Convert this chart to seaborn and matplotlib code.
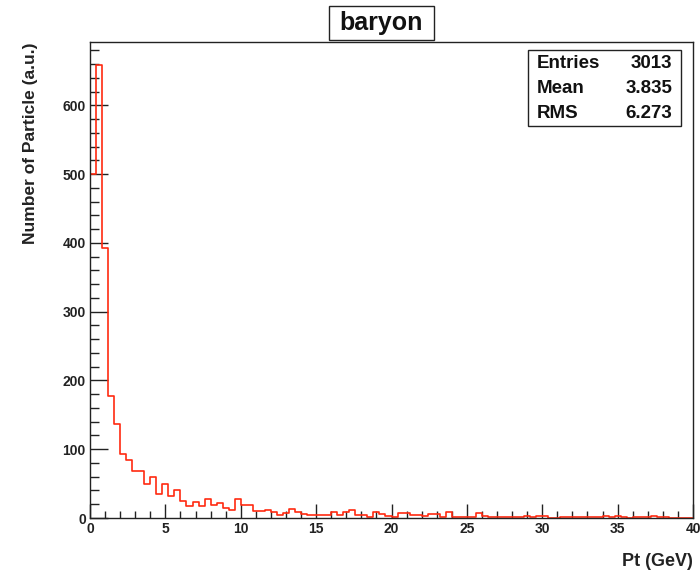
import numpy as np
import pandas as pd
import matplotlib
matplotlib.use("Agg")
import matplotlib.pyplot as plt
from matplotlib.ticker import MultipleLocator
from matplotlib.patches import Rectangle
import seaborn as sns

# ---- data ----
bin_width = 0.4
x_min, x_max = 0.0, 40.0
counts = [500, 659, 393, 178, 136, 93, 84, 69, 68, 50,
          60, 35, 50, 32, 40, 25, 18, 23, 17, 28,
          19, 22, 14, 12, 27, 19, 19, 10, 10, 11,
          9, 5, 7, 13, 9, 6, 4, 4, 4, 5,
          9, 5, 9, 12, 5, 4, 2, 8, 6, 3,
          2, 7, 7, 4, 4, 3, 6, 6, 1, 8,
          2, 2, 2, 2, 7, 3, 2, 2, 2, 2,
          2, 2, 3, 2, 3, 3, 0, 0, 2, 2,
          2, 1, 2, 2, 2, 3, 2, 3, 2, 0,
          1, 1, 2, 3, 1, 1, 0, 0, 0, 0]
title_text = "baryon"
x_label = "Pt (GeV)"
y_label = "Number of Particle (a.u.)"
stats_names = ["Entries", "Mean", "RMS"]
stats_values = ["3013", "3.835", "6.273"]
y_max = 692

edges = np.arange(len(counts) + 1) * bin_width + x_min
centers = (edges[:-1] + edges[1:]) / 2
df = pd.DataFrame({"pt": centers, "n": np.array(counts, dtype=float)})

sns.set_style("white")
plt.rcParams["font.family"] = ["Liberation Sans", "DejaVu Sans"]

W, H = 700, 575
fig = plt.figure(figsize=(W / 100, H / 100), dpi=100)
ax = fig.add_axes([90 / W, 1 - 518 / H, (693 - 90) / W, (518 - 42) / H])

sns.histplot(data=df, x="pt", weights="n", binwidth=bin_width,
             binrange=(x_min, x_max), element="step",
             fill=False, color="#ff2a10", linewidth=1.2, ax=ax)

ax.set_xlim(x_min, x_max)
ax.set_ylim(0, y_max)

for s in ax.spines.values():
    s.set_visible(True)
    s.set_color("#222222")
    s.set_linewidth(1.0)

ax.xaxis.set_major_locator(MultipleLocator(5))
ax.xaxis.set_minor_locator(MultipleLocator(1))
ax.yaxis.set_major_locator(MultipleLocator(100))
ax.yaxis.set_minor_locator(MultipleLocator(20))
ax.tick_params(axis="x", which="major", direction="in", length=10.3, width=1,
               color="#222222", labelsize=10, pad=3, bottom=True, top=False)
ax.tick_params(axis="x", which="minor", direction="in", length=5.4, width=1,
               color="#222222", bottom=True, top=False)
ax.tick_params(axis="y", which="major", direction="in", length=13, width=1,
               color="#222222", labelsize=10, pad=3, left=True, right=False)
ax.tick_params(axis="y", which="minor", direction="in", length=6.5, width=1,
               color="#222222", left=True, right=False)
for lab in ax.get_xticklabels() + ax.get_yticklabels():
    lab.set_fontweight("bold")
    lab.set_color("#222222")

ax.set_xlabel(x_label, loc="right", fontsize=13, fontweight="bold", color="#222222")
ax.xaxis.set_label_coords(1.0, -(553 - 518) / (518 - 42))
ax.set_ylabel(y_label, loc="top", fontsize=12.5, fontweight="bold", color="#222222")
ax.yaxis.set_label_coords(-(90 - 38) / (693 - 90), 1.0)

# title box
fig.patches.append(Rectangle((329 / W, 1 - 40 / H), (434 - 329) / W, (40 - 6) / H,
                             transform=fig.transFigure, fill=True, fc="white",
                             ec="#222222", lw=1.0))
fig.text(381.5 / W, 1 - 23 / H, title_text, ha="center", va="center",
         fontsize=18, fontweight="bold", color="#111111")

# stats box
fig.patches.append(Rectangle((528 / W, 1 - 126 / H), (681 - 528) / W, (126 - 50) / H,
                             transform=fig.transFigure, fill=True, fc="white",
                             ec="#222222", lw=1.0, zorder=5))
for i, (nm, val) in enumerate(zip(stats_names, stats_values)):
    yy = 1 - (64 + 24.5 * i) / H
    fig.text(537 / W, yy, nm, ha="left", va="center", fontsize=13.5,
             fontweight="bold", color="#111111", zorder=6)
    fig.text(672 / W, yy, val, ha="right", va="center", fontsize=13.5,
             fontweight="bold", color="#111111", zorder=6)

fig.savefig("out.png", dpi=100)
